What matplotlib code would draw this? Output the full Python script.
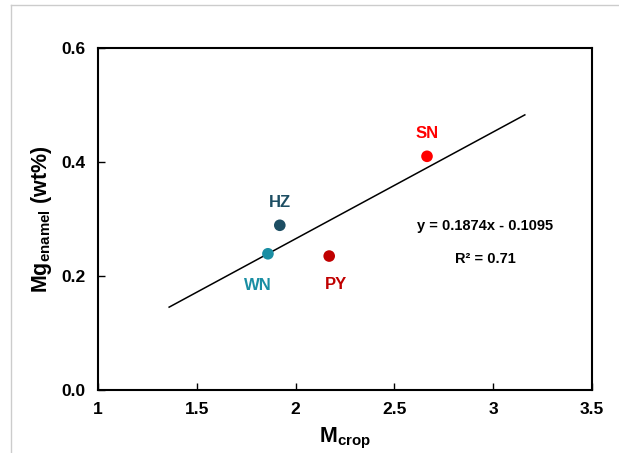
import numpy as np
import matplotlib
matplotlib.use("Agg")
import matplotlib.pyplot as plt
from matplotlib.lines import Line2D

plt.rcParams['font.family'] = ['Liberation Sans', 'DejaVu Sans']
plt.rcParams['font.weight'] = 'bold'
plt.rcParams['mathtext.fontset'] = 'custom'
plt.rcParams['mathtext.bf'] = 'Liberation Sans:bold'
plt.rcParams['mathtext.rm'] = 'Liberation Sans:bold'

sites = ['HZ', 'WN', 'PY', 'SN']
m_crop = [1.92, 1.86, 2.17, 2.665]
mg_enamel = [0.289, 0.239, 0.235, 0.410]
colors = ['#1d4e63', '#1a8ea3', '#c00000', '#ff0000']
slope, intercept = 0.1874, -0.1095
fit_x = [1.36, 3.16]

fig = plt.figure(figsize=(6.19, 4.53), dpi=100)
ax = fig.add_axes([98/619, 1-390/453, (592-98)/619, (390-48)/453])

fx = np.array(fit_x)
ax.plot(fx, slope*fx + intercept, color='black', lw=1.1, zorder=1)
ax.scatter(m_crop, mg_enamel, c=colors, s=70, zorder=2, edgecolors='none')

offsets = {'HZ': (0, 0.040), 'WN': (-0.05, -0.055), 'PY': (0.035, -0.050), 'SN': (0.0, 0.040)}
for s, x, y, c in zip(sites, m_crop, mg_enamel, colors):
    dx, dy = offsets[s]
    ax.text(x+dx, y+dy, s, color=c, fontsize=12, fontweight='bold', ha='center', va='center')

ax.text(2.96, 0.288, 'y = 0.1874x - 0.1095', fontsize=10.5, ha='center', va='center')
ax.text(2.96, 0.230, 'R² = 0.71', fontsize=10.5, ha='center', va='center')

ax.set_xlim(1, 3.5)
ax.set_ylim(0, 0.6)
ax.set_xticks([1, 1.5, 2, 2.5, 3, 3.5])
ax.set_xticklabels(['1', '1.5', '2', '2.5', '3', '3.5'])
ax.set_yticks([0, 0.2, 0.4, 0.6])
ax.set_yticklabels(['0.0', '0.2', '0.4', '0.6'])
ax.tick_params(direction='in', length=5, width=1, labelsize=12.5, pad=9)
for sp in ax.spines.values():
    sp.set_linewidth(1.5)

ax.set_xlabel(r'M$_\mathbf{crop}$', fontsize=15.5, fontweight='bold', labelpad=6)
ax.set_ylabel(r'Mg$_\mathbf{enamel}$ (wt%)', fontsize=15.5, fontweight='bold', labelpad=5)

# light grey frame around the figure
fig.add_artist(Line2D([11/619, 1], [1-5/453, 1-5/453], color='#cccccc', lw=1, transform=fig.transFigure))
fig.add_artist(Line2D([11/619, 11/619], [0, 1-5/453], color='#cccccc', lw=1, transform=fig.transFigure))

fig.savefig('out.png', dpi=100)
